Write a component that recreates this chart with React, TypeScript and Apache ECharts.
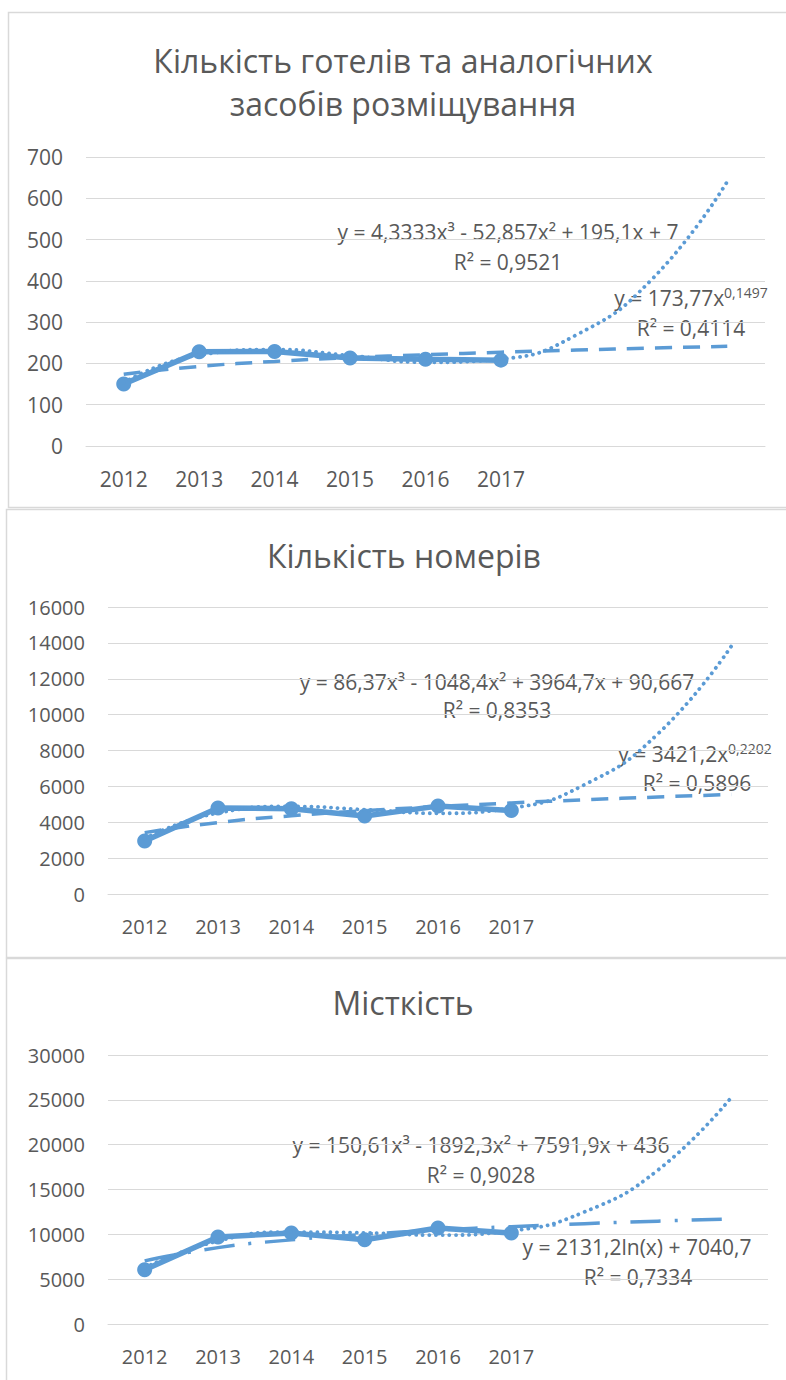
import React, { useEffect, useRef } from "react";
import * as echarts from "echarts";

const categories = ["2012", "2013", "2014", "2015", "2016", "2017", "", "", ""];

const hotels = [150, 228, 229, 213, 210, 208];
const hotelsPoly = [153.6, 220.4, 233.6, 219.0, 202.7, 210.8, 269.0, 403.6, 640.5];
const hotelsPower = [173.8, 192.8, 204.8, 213.9, 221.1, 227.2, 232.5, 237.2, 241.5];

const rooms = [2950, 4800, 4750, 4350, 4900, 4650];
const roomsPoly = [3093, 4517, 4881, 4703, 4500, 4792, 6097, 8932, 13816];
const roomsPower = [3421, 3985, 4358, 4643, 4876, 5076, 5251, 5408, 5550];

const capacity = [6050, 9700, 10150, 9400, 10700, 10150];
const capacityPoly = [6286, 9255, 10247, 10166, 9914, 10396, 12516, 17176, 25281];
const capacityLog = [7041, 8518, 9382, 9995, 10471, 10859, 11188, 11472, 11723];

const titleLines = [
  ["Кількість готелів та аналогічних", "засобів розміщування"],
  ["Кількість номерів"],
  ["Місткість"],
];
const yMaxes = [700, 16000, 30000];
const yIntervals = [100, 2000, 5000];

const polyEquations = [
  "y = 4,3333x³ - 52,857x² + 195,1x + 7",
  "y = 86,37x³ - 1048,4x² + 3964,7x + 90,667",
  "y = 150,61x³ - 1892,3x² + 7591,9x + 436",
];
const polyR2 = ["R² = 0,9521", "R² = 0,8353", "R² = 0,9028"];
const secondEqBase = ["y = 173,77x", "y = 3421,2x", "y = 2131,2ln(x) + 7040,7"];
const secondEqExp = ["0,1497", "0,2202", ""];
const secondR2 = ["R² = 0,4114", "R² = 0,5896", "R² = 0,7334"];

const BLUE = "#5B9BD5";
const TEXT = "#595959";
const GRID = "#D9D9D9";
const FONT = "'Open Sans', 'Noto Sans', sans-serif";

export default function App() {
  const ref = useRef<HTMLDivElement>(null);

  useEffect(() => {
    if (!ref.current) return;
    const chart = echarts.init(ref.current, undefined, { renderer: "svg" });

    const grids = [
      { left: 86, right: 21, top: 157, height: 289 },
      { left: 108, right: 18, top: 607, height: 287 },
      { left: 108, right: 18, top: 1055, height: 269 },
    ];
    const labelSizes = [21, 20, 20];

    const xAxis = grids.map((_, i) => ({
      type: "category",
      gridIndex: i,
      data: categories,
      boundaryGap: true,
      axisLine: { show: true, lineStyle: { color: GRID, width: 1 } },
      axisTick: { show: false },
      axisLabel: {
        interval: 0,
        color: TEXT,
        fontSize: labelSizes[i],
        fontFamily: FONT,
        margin: 22,
      },
    }));
    const yAxis = grids.map((_, i) => ({
      type: "value",
      gridIndex: i,
      min: 0,
      max: yMaxes[i],
      interval: yIntervals[i],
      axisLine: { show: false },
      axisTick: { show: false },
      splitLine: { lineStyle: { color: GRID, width: 1 } },
      axisLabel: {
        color: TEXT,
        fontSize: labelSizes[i],
        fontFamily: FONT,
        margin: 23,
        formatter: (v: number) => String(v),
      },
    }));

    const mainData = [hotels, rooms, capacity];
    const polyData = [hotelsPoly, roomsPoly, capacityPoly];
    const secondData = [hotelsPower, roomsPower, capacityLog];
    const secondDash = [[17, 11], [17, 11], [30, 14, 3, 14]];

    const series: any[] = [];
    for (let i = 0; i < 3; i++) {
      series.push({
        type: "line",
        xAxisIndex: i,
        yAxisIndex: i,
        data: mainData[i],
        symbol: "circle",
        symbolSize: 15,
        itemStyle: { color: BLUE },
        lineStyle: { color: BLUE, width: 5.5 },
        z: 2,
      });
      series.push({
        type: "line",
        xAxisIndex: i,
        yAxisIndex: i,
        data: secondData[i],
        symbol: "none",
        smooth: true,
        lineStyle: { color: BLUE, width: 3.5, type: secondDash[i], cap: "butt" },
        z: 3,
      });
      series.push({
        type: "line",
        xAxisIndex: i,
        yAxisIndex: i,
        data: polyData[i],
        symbol: "none",
        smooth: true,
        lineStyle: { color: BLUE, width: 3.8, type: [0.1, 6.5], cap: "round" },
        z: 3,
      });
    }

    const textStyle = (size: number) => ({
      fill: TEXT,
      fontSize: size,
      fontFamily: FONT,
      align: "center",
      verticalAlign: "middle",
      textAlign: "center",
      textVerticalAlign: "middle",
    });

    const graphic: any[] = [
      { type: "rect", shape: { x: 8.5, y: 12.5, width: 800, height: 495 }, style: { fill: "none", stroke: GRID, lineWidth: 1.5 }, silent: true },
      { type: "rect", shape: { x: 6.5, y: 509.5, width: 800, height: 448 }, style: { fill: "none", stroke: GRID, lineWidth: 1.5 }, silent: true },
      { type: "rect", shape: { x: 6.5, y: 958.5, width: 800, height: 450 }, style: { fill: "none", stroke: GRID, lineWidth: 1.5 }, silent: true },
    ];

    const titleY = [[60, 103], [555], [1002]];
    const titleX = [403, 404, 403];
    for (let i = 0; i < 3; i++) {
      titleLines[i].forEach((t, k) => {
        graphic.push({
          type: "text",
          x: titleX[i],
          y: titleY[i][k],
          style: { ...textStyle(32), text: t },
        });
      });
    }

    const eqPos = [
      { p: [508, 232], r: [508, 262], q: [691, 298], s: [691, 328] },
      { p: [497, 682], r: [497, 710], q: [695, 754], s: [697, 783] },
      { p: [481, 1145], r: [481, 1175], q: [637, 1247], s: [638, 1277] },
    ];
    for (let i = 0; i < 3; i++) {
      const e = eqPos[i];
      graphic.push({ type: "text", x: e.p[0], y: e.p[1], style: { ...textStyle(21), text: polyEquations[i] } });
      graphic.push({ type: "text", x: e.r[0], y: e.r[1], style: { ...textStyle(21), text: polyR2[i] } });
      const hasExp = secondEqExp[i] !== "";
      graphic.push({
        type: "text",
        x: e.q[0],
        y: e.q[1],
        style: {
          ...textStyle(21),
          text: hasExp ? `{a|${secondEqBase[i]}}{s|${secondEqExp[i]}}` : `{a|${secondEqBase[i]}}`,
          rich: {
            a: { fontSize: 21, fontFamily: FONT, color: TEXT, lineHeight: 26 },
            s: { fontSize: 14, fontFamily: FONT, color: TEXT, lineHeight: 26, padding: [0, 0, 12, 0] },
          },
        },
      });
      graphic.push({ type: "text", x: e.s[0], y: e.s[1], style: { ...textStyle(21), text: secondR2[i] } });
    }

    chart.setOption({
      animation: false,
      backgroundColor: "#ffffff",
      grid: grids,
      xAxis,
      yAxis,
      series,
      graphic,
    });

    return () => chart.dispose();
  }, []);

  return (
    <div
      ref={ref}
      style={{ position: "absolute", left: 0, top: 0, width: 786, height: 1380, background: "#fff" }}
    />
  );
}
